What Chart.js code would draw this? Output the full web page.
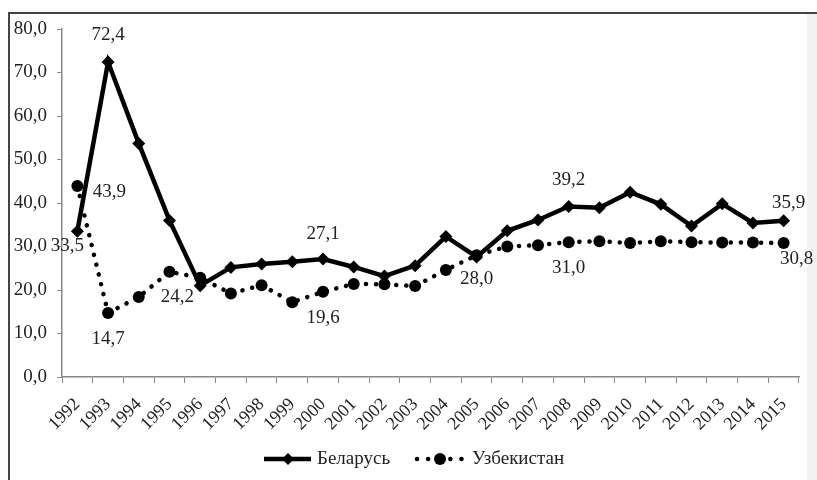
<!DOCTYPE html>
<html>
<head>
<meta charset="utf-8">
<script src="https://cdn.jsdelivr.net/npm/chart.js@4/dist/chart.umd.min.js"></script>
<style>
  html, body { margin: 0; padding: 0; background: #fff; }
  #wrap { position: relative; width: 817px; height: 480px; overflow: hidden; }
  #frame { position: absolute; left: 8px; top: 12px; width: 900px; height: 600px;
           border-left: 2px solid #444; border-top: 2px solid #444; }
  #edge { position: absolute; left: 807px; top: 14px; width: 10px; height: 480px; background: #f2f2f2; }
  canvas { position: absolute; left: 0; top: 0; }
</style>
</head>
<body>
<div id="wrap">
  <div id="edge"></div>
  <div id="frame"></div>
  <canvas id="chart" width="817" height="480"></canvas>
</div>
<script>
const years = ["1992","1993","1994","1995","1996","1997","1998","1999","2000","2001","2002","2003",
  "2004","2005","2006","2007","2008","2009","2010","2011","2012","2013","2014","2015"];
const belarus = [33.5, 72.4, 53.7, 36.0, 21.0, 25.2, 26.0, 26.5, 27.1, 25.3, 23.2, 25.6,
  32.3, 27.6, 33.6, 36.1, 39.2, 38.9, 42.5, 39.7, 34.7, 39.8, 35.4, 35.9];
const uzbekistan = [43.9, 14.7, 18.4, 24.2, 22.8, 19.2, 21.1, 17.2, 19.6, 21.4, 21.3, 20.9,
  24.6, 28.0, 30.0, 30.3, 31.0, 31.2, 30.8, 31.2, 31.0, 30.9, 30.9, 30.8];
const yTicks = [0, 10, 20, 30, 40, 50, 60, 70, 80];

// which points carry a value label, and where it sits relative to the point
const belLabels = [[0, -10, 15], [1, 0, -27], [8, 0, -25], [16, 0, -26], [23, 5, -18]];
const uzbLabels = [[0, 32, 6], [1, 0, 26], [3, 8, 25], [8, 0, 26], [13, 0, 24], [16, 0, 26], [23, 13, 16]];

const FONT = "'Liberation Serif', 'Times New Roman', serif";
const fmt = (v) => v.toFixed(1).replace(".", ",");

const valueLabels = {
  id: "valueLabels",
  afterDatasetsDraw(chart) {
    const ctx = chart.ctx;
    const x = chart.scales.x, y = chart.scales.y;
    ctx.save();
    ctx.font = "19px " + FONT;
    ctx.fillStyle = "#222";
    ctx.textAlign = "center";
    ctx.textBaseline = "middle";
    [[belarus, belLabels], [uzbekistan, uzbLabels]].forEach(([data, spec]) => {
      spec.forEach(([i, dx, dy]) => {
        ctx.fillText(fmt(data[i]), x.getPixelForValue(i) + dx, y.getPixelForValue(data[i]) + dy);
      });
    });
    ctx.restore();
  }
};

const legendBox = {
  id: "legendBox",
  afterDraw(chart) {
    const ctx = chart.ctx;
    const ly = 459;
    ctx.save();
    // Беларусь
    ctx.strokeStyle = "#000";
    ctx.lineWidth = 4.5;
    ctx.beginPath(); ctx.moveTo(264, ly); ctx.lineTo(311, ly); ctx.stroke();
    ctx.fillStyle = "#000";
    ctx.beginPath();
    ctx.moveTo(288, ly - 6); ctx.lineTo(294, ly); ctx.lineTo(288, ly + 6); ctx.lineTo(282, ly);
    ctx.closePath(); ctx.fill();
    // Узбекистан
    ctx.lineCap = "round";
    ctx.lineWidth = 4.5;
    ctx.setLineDash([0.1, 11]);
    ctx.beginPath(); ctx.moveTo(417, ly); ctx.lineTo(464, ly); ctx.stroke();
    ctx.setLineDash([]);
    ctx.beginPath(); ctx.arc(440, ly, 6, 0, Math.PI * 2); ctx.fill();
    ctx.font = "19px " + FONT;
    ctx.fillStyle = "#222";
    ctx.textBaseline = "middle";
    ctx.fillText("Беларусь", 317, ly);
    ctx.fillText("Узбекистан", 472, ly);
    ctx.restore();
  }
};

new Chart(document.getElementById("chart"), {
  type: "line",
  data: {
    labels: years,
    datasets: [
      {
        label: "Беларусь",
        data: belarus,
        borderColor: "#000",
        backgroundColor: "#000",
        borderWidth: 4.5,
        pointStyle: "rectRot",
        pointRadius: 6.5,
        pointBorderWidth: 0,
        tension: 0
      },
      {
        label: "Узбекистан",
        data: uzbekistan,
        borderColor: "#000",
        backgroundColor: "#000",
        borderWidth: 4.5,
        borderDash: [0.1, 10],
        borderCapStyle: "round",
        pointStyle: "circle",
        pointRadius: 6,
        pointBorderWidth: 0,
        tension: 0
      }
    ]
  },
  options: {
    responsive: false,
    animation: false,
    layout: { padding: { left: 8, right: 18, top: 29, bottom: 0 } },
    plugins: { legend: { display: false }, tooltip: { enabled: false } },
    scales: {
      x: {
        offset: true,
        afterFit: (s) => { s.height = 103; },
        grid: { drawOnChartArea: false, offset: true, tickLength: 6, color: "#888", lineWidth: 1 },
        border: { color: "#888", width: 1.5 },
        ticks: { autoSkip: false, minRotation: 45, maxRotation: 45, padding: 11, color: "#222", font: { family: FONT, size: 18 } }
      },
      y: {
        min: 0,
        max: 80,
        afterFit: (s) => { s.width = 54; },
        afterBuildTicks: (s) => { s.ticks = yTicks.map((v) => ({ value: v })); },
        grid: { drawOnChartArea: false, tickLength: 5, color: "#888", lineWidth: 1 },
        border: { color: "#888", width: 1.5 },
        ticks: { padding: 10, color: "#222", font: { family: FONT, size: 19 }, callback: (v) => fmt(v) }
      }
    }
  },
  plugins: [valueLabels, legendBox]
});
</script>
</body>
</html>
